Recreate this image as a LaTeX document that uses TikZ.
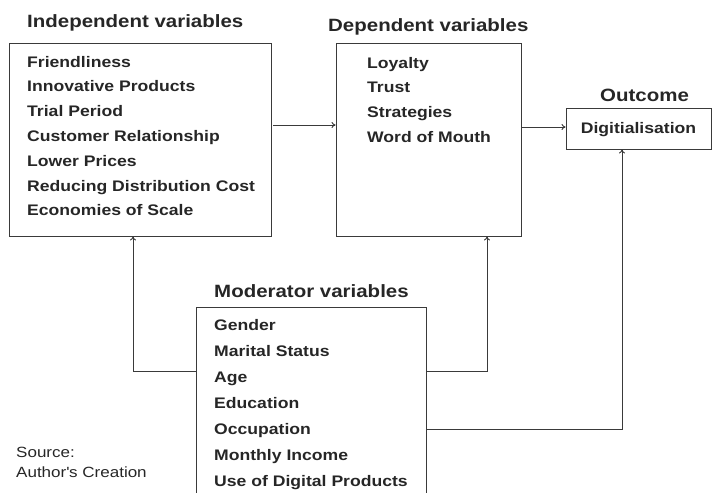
\documentclass[tikz,border=0pt]{standalone}
\usepackage{fontspec}
\setmainfont{Liberation Sans}[FakeStretch=1.15]
\usetikzlibrary{arrows.meta}
\definecolor{ink}{HTML}{262626}
\definecolor{linec}{HTML}{3A3A3A}
\tikzset{
  box/.style={draw=linec, line width=0.9pt, rectangle, inner sep=0pt},
  itemtxt/.style={anchor=base west, inner sep=0pt, text=ink, font=\fontsize{15.3}{18}\selectfont\bfseries},
  titletxt/.style={anchor=base west, inner sep=0pt, text=ink, font=\fontsize{17.8}{21}\selectfont\bfseries},
  srctxt/.style={anchor=base west, inner sep=0pt, text=ink, font=\fontsize{14.8}{18}\selectfont},
  conn/.style={draw=linec, line width=0.9pt},
  arr/.style={conn, -{To[length=4pt,width=6pt]}}
}
\begin{document}
\begin{tikzpicture}[x=1pt,y=-1pt]
\useasboundingbox (0,0) rectangle (713,493);
% boxes
\node[box, minimum width=262pt, minimum height=193pt] (ind) at (140,139.5) {};
\node[box, minimum width=185pt, minimum height=193pt] (dep) at (428.5,139.5) {};
\node[box, minimum width=145pt, minimum height=41pt] (out) at (638.5,128.5) {};
\node[box, minimum width=230pt, minimum height=200pt] (mod) at (311,407) {};
% titles
\node[titletxt] (tind) at (27,27) {Independent variables};
\node[titletxt] (tdep) at (328,31) {Dependent variables};
\node[titletxt] (tout) at (600,101) {Outcome};
\node[titletxt] (tmod) at (214,297) {Moderator variables};
% independent items
\foreach \t [count=\i from 0] in {Friendliness, Innovative Products, Trial Period, Customer Relationship, Lower Prices, Reducing Distribution Cost, Economies of Scale}
  \node[itemtxt] (ind\i) at (27,67+24.8*\i) {\t};
% dependent items
\foreach \t [count=\i from 0] in {Loyalty, Trust, Strategies, Word of Mouth}
  \node[itemtxt] (dep\i) at (367,68+24.7*\i) {\t};
% outcome item
\node[itemtxt, anchor=base] (out0) at (638.5,133) {Digitialisation};
% moderator items
\foreach \t [count=\i from 0] in {Gender, Marital Status, Age, Education, Occupation, Monthly Income, Use of Digital Products}
  \node[itemtxt] (mod\i) at (214,330+26.1*\i) {\t};
% source
\node[srctxt] (src1) at (16,457) {Source:};
\node[srctxt] (src2) at (16,477) {Author\textquotesingle s Creation};
% helper coordinates
\coordinate (ya) at (0,125);
\coordinate (yb) at (0,127);
\coordinate (yc) at (0,371);
\coordinate (yd) at (0,429);
\coordinate (xl) at (133,0);
\coordinate (xr) at (487,0);
\coordinate (xo) at (622,0);
% connectors
\draw[arr, shorten <=2pt] (ind.east |- ya) -- (dep.west |- ya);
\draw[arr] (dep.east |- yb) -- (out.west |- yb);
\draw[arr] (mod.west |- yc) -- (xl |- yc) -- (ind.south -| xl);
\draw[arr] (mod.east |- yc) -- (xr |- yc) -- (dep.south -| xr);
\draw[arr] (mod.east |- yd) -- (xo |- yd) -- (out.south -| xo);
\end{tikzpicture}
\end{document}
